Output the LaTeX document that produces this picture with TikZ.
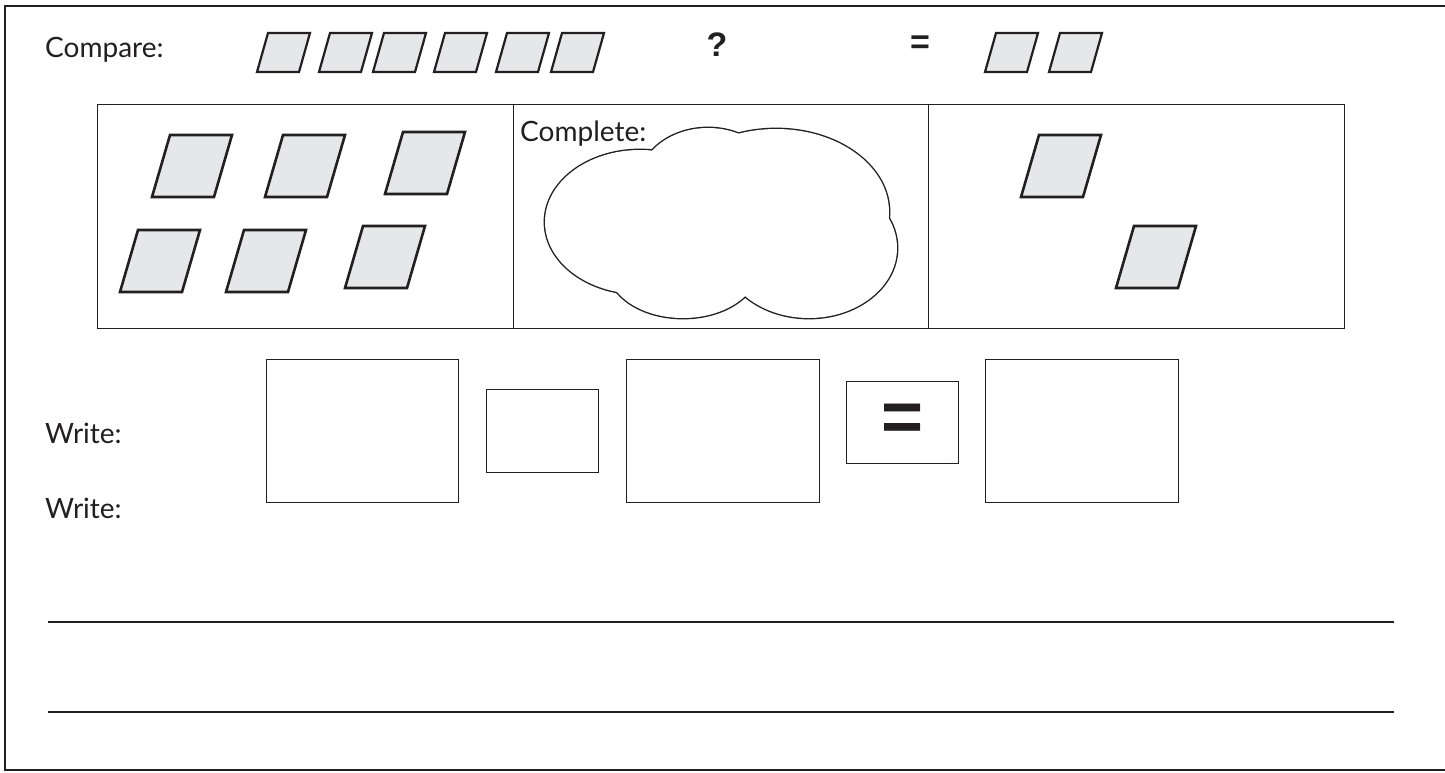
\documentclass[tikz,border=0pt]{standalone}
\usepackage{fontspec}
\setmainfont{Lato}
\newfontfamily\symfont{Liberation Sans}
\definecolor{ink}{HTML}{231F20}
\definecolor{shade}{HTML}{E6E7E8}
\begin{document}
\begin{tikzpicture}[x=1pt,y=-1pt,
  pgline/.style={draw=ink, fill=shade, line width=2.6pt, line join=miter},
  spgline/.style={draw=ink, fill=shade, line width=2.2pt, line join=miter},
  bigpg/.pic={\path[pgline] (0,0) -- (62,0) -- (80,-62) -- (18,-62) -- cycle;},
  smallpg/.pic={\path[spgline] (0,0) -- (42,0) -- (53,-39) -- (11,-39) -- cycle;},
  panel/.style={draw=ink, line width=1.3pt, minimum height=224pt, inner sep=0, anchor=north west},
  wbox/.style={draw=ink, line width=1.3pt, inner sep=0, anchor=north west},
  label/.style={font=\fontsize{28}{32}\selectfont, text=ink, inner sep=0, anchor=base west},
  sym/.style={font=\symfont\bfseries\fontsize{34}{34}\selectfont, text=ink, inner sep=0},
  rule/.style={draw=ink, line width=2.6pt},
  cloudline/.style={draw=ink, line width=2.8pt},
]
\useasboundingbox (0,0) rectangle (1445,772);
\fill[white] (0,0) rectangle (1445,772);

% outer frame (right side cut off)
\draw[rule] (1445,6) -- (5,6) -- (5,770) -- (1445,770);

% header
\node[label] (compare) at (45,57) {Compare:};
\foreach \x [count=\i] in {257,319,373,434,496,551}
  \pic (s\i) at (\x,72) {smallpg};
\node[sym, anchor=base] (q) at (717,56) {?};
\node[sym] (eq) at (920,44.5) {=};
\pic (s7) at (985,72) {smallpg};
\pic (s8) at (1049,72) {smallpg};

% three panels
\node[panel, minimum width=416pt] (p1) at (97,104) {};
\node[panel, minimum width=415pt] (p2) at (513,104) {};
\node[panel, minimum width=416pt] (p3) at (928,104) {};

% parallelograms in panels
\pic (g1) at (152,197) {bigpg};
\pic (g2) at (265,197) {bigpg};
\pic (g3) at (385,194) {bigpg};
\pic (g4) at (120,292) {bigpg};
\pic (g5) at (226,292) {bigpg};
\pic (g6) at (345,288) {bigpg};
\pic (g7) at (1021,197) {bigpg};
\pic (g8) at (1116,288) {bigpg};

% cloud: union of ellipses
\foreach \cx/\cy/\rx/\ry in {640/222/95/72, 708/185/70/57, 776/212/113/83, 809/248/88/70, 683/268/75/50}
  \draw[cloudline] (\cx,\cy) ellipse [x radius=\rx, y radius=\ry];
\foreach \cx/\cy/\rx/\ry in {640/222/95/72, 708/185/70/57, 776/212/113/83, 809/248/88/70, 683/268/75/50}
  \fill[white] (\cx,\cy) ellipse [x radius=\rx, y radius=\ry];
\node[label] (complete) at (520,141) {Complete:};

% write row
\node[label] (write1) at (45,443) {Write:};
\node[label] (write2) at (45,518) {Write:};
\node[wbox, minimum width=192pt, minimum height=143pt] (b1) at (266,359) {};
\node[wbox, minimum width=112pt, minimum height=83pt] (b2) at (486,389) {};
\node[wbox, minimum width=193pt, minimum height=143pt] (b3) at (626,359) {};
\node[wbox, minimum width=112pt, minimum height=82pt] (b4) at (846,381) {};
\node[wbox, minimum width=193pt, minimum height=143pt] (b5) at (985,359) {};
\node[sym, font=\symfont\bfseries\fontsize{72}{72}\selectfont] (beq) at (b4.center) {=};

% answer lines
\draw[rule] (48,622) -- (1394,622);
\draw[rule] (48,712) -- (1394,712);
\end{tikzpicture}
\end{document}
